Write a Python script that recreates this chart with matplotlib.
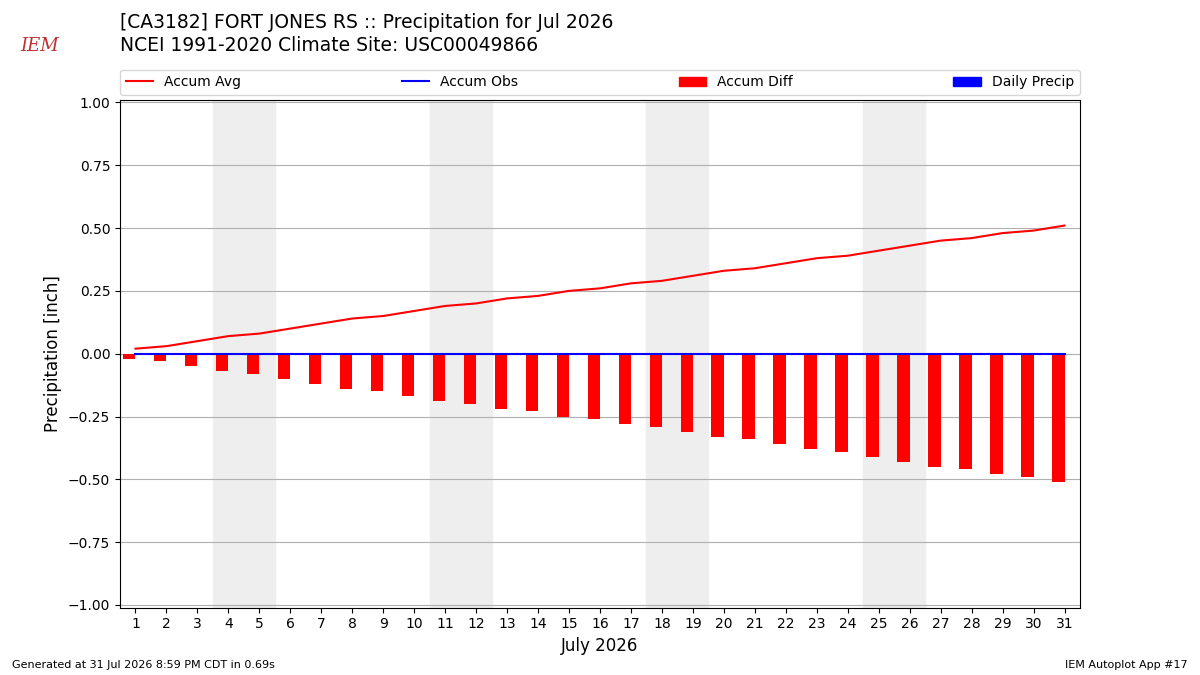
import numpy as np
import matplotlib
matplotlib.use("Agg")
import matplotlib.pyplot as plt
from matplotlib.patches import Patch
from matplotlib.lines import Line2D

days = list(range(1, 32))
accum_avg = [0.02, 0.03, 0.05, 0.07, 0.08, 0.10, 0.12, 0.14, 0.15, 0.17,
             0.19, 0.20, 0.22, 0.23, 0.25, 0.26, 0.28, 0.29, 0.31, 0.33,
             0.34, 0.36, 0.38, 0.39, 0.41, 0.43, 0.45, 0.46, 0.48, 0.49, 0.51]
accum_obs = [0.0] * 31
daily_precip = [0.0] * 31
weekends = [(4, 5), (11, 12), (18, 19), (25, 26)]

accum_diff = [o - a for o, a in zip(accum_obs, accum_avg)]

fig = plt.figure(figsize=(12, 6.75), dpi=100)
ax = fig.add_axes([0.1, 0.1, 0.8, 0.752])

for a, b in weekends:
    ax.axvspan(a - 0.5, b + 0.5, color="#eeeeee", zorder=0)

ax.bar(days, accum_diff, width=-0.4, align="edge", color="red", zorder=2)
ax.bar(days, daily_precip, width=0.4, align="edge", color="blue", zorder=2)
ax.plot(days, accum_avg, color="red", zorder=3)
ax.plot(days, accum_obs, color="blue", zorder=3)

ax.set_xlim(0.5, 31.5)
ax.set_ylim(-1.01, 1.01)
ax.set_xticks(days)
ax.set_yticks(np.arange(-1.0, 1.01, 0.25))
ax.yaxis.grid(True, color="#b0b0b0")
ax.set_axisbelow(True)
ax.set_xlabel("July 2026", fontsize=12)
ax.set_ylabel("Precipitation [inch]", fontsize=12)

handles = [Line2D([], [], color="red"), Line2D([], [], color="blue"),
           Patch(color="red"), Patch(color="blue")]
labels = ["Accum Avg", "Accum Obs", "Accum Diff", "Daily Precip"]
ax.legend(handles, labels, ncol=4, mode="expand", loc="lower left",
          bbox_to_anchor=(0, 1.01, 1, 0.05), borderaxespad=0, fontsize=10)

fig.text(0.1, 0.952, "[CA3182] FORT JONES RS :: Precipitation for Jul 2026",
         fontsize=13.5, va="bottom")
fig.text(0.1, 0.918, "NCEI 1991-2020 Climate Site: USC00049866",
         fontsize=13.5, va="bottom")
fig.text(0.017, 0.925, "IEM", color="#c03030", fontsize=13, style="italic",
         family="DejaVu Serif")
fig.text(0.01, 0.01, "Generated at 31 Jul 2026 8:59 PM CDT in 0.69s", fontsize=8)
fig.text(0.99, 0.01, "IEM Autoplot App #17", fontsize=8, ha="right")

fig.savefig("out.png")
